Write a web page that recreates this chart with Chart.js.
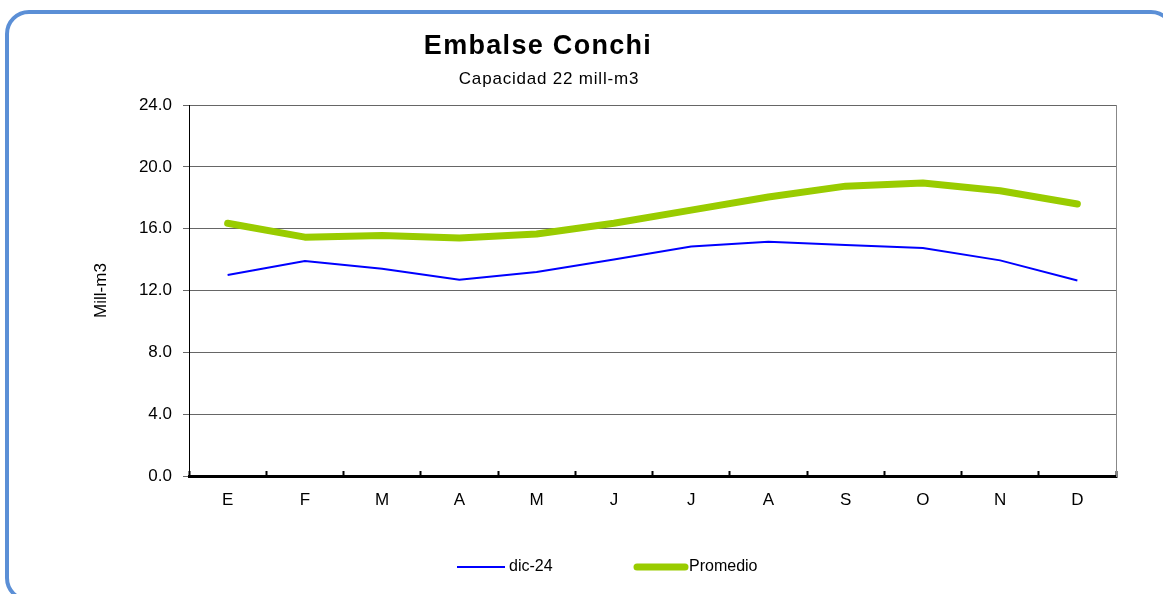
<!DOCTYPE html>
<html lang="es">
<head>
<meta charset="utf-8">
<title>Embalse Conchi</title>
<script src="https://cdn.jsdelivr.net/npm/chart.js@4/dist/chart.umd.min.js"></script>
<style>
    html, body { margin: 0; padding: 0; background: #fff; overflow: hidden; }
    #marco {
        position: absolute;
        left: 5px; top: 10px;
        width: 1170px; height: 592px;
        box-sizing: border-box;
        border: 4.5px solid #5b8fd6;
        border-radius: 24px;
    }
    #grafico { position: absolute; left: 0; top: 0; }
</style>
</head>
<body>
<div id="marco"></div>
<canvas id="grafico" width="1163" height="594"></canvas>
<script>
// Datos del embalse (mill-m3 por mes)
const meses = ['E', 'F', 'M', 'A', 'M', 'J', 'J', 'A', 'S', 'O', 'N', 'D'];
const dic24 = [13.0, 13.9, 13.4, 12.7, 13.2, 14.0, 14.85, 15.15, 14.95, 14.75, 13.95, 12.65];
const promedio = [16.35, 15.45, 15.55, 15.4, 15.65, 16.35, 17.2, 18.05, 18.75, 18.95, 18.45, 17.6];
const ejeY = { min: 0, max: 24, paso: 4 };

const FUENTE = '"Liberation Sans", Arial, sans-serif';

// Titulo y subtitulo
const titulos = {
    id: 'titulos',
    afterDraw(chart) {
        const ctx = chart.ctx;
        ctx.save();
        ctx.fillStyle = '#000';
        ctx.textAlign = 'center';
        ctx.textBaseline = 'alphabetic';
        ctx.font = 'bold 27px ' + FUENTE;
        ctx.letterSpacing = '1.3px';
        ctx.fillText('Embalse Conchi', 538, 54);
        ctx.font = '17px ' + FUENTE;
        ctx.letterSpacing = '0.8px';
        ctx.fillText('Capacidad 22 mill-m3', 549, 84);
        ctx.restore();
    }
};

// Leyenda con trazos de linea
const leyenda = {
    id: 'leyenda',
    afterDraw(chart) {
        const ctx = chart.ctx;
        const items = [
            { ds: chart.data.datasets[0], x: 457 },
            { ds: chart.data.datasets[1], x: 637 }
        ];
        ctx.save();
        ctx.font = '16px ' + FUENTE;
        ctx.textBaseline = 'middle';
        ctx.fillStyle = '#000';
        items.forEach(it => {
            ctx.strokeStyle = it.ds.borderColor;
            ctx.lineWidth = it.ds.borderWidth;
            ctx.lineCap = it.ds.borderCapStyle || 'butt';
            ctx.beginPath();
            ctx.moveTo(it.x, 567);
            ctx.lineTo(it.x + 48, 567);
            ctx.stroke();
            ctx.fillText(it.ds.label, it.x + 52, 567);
        });
        ctx.restore();
    }
};

new Chart(document.getElementById('grafico').getContext('2d'), {
    type: 'line',
    data: {
        labels: meses,
        datasets: [
            {
                label: 'dic-24',
                data: dic24,
                borderColor: '#0000ff',
                borderWidth: 2,
                pointRadius: 0,
                tension: 0
            },
            {
                label: 'Promedio',
                data: promedio,
                borderColor: '#99cc00',
                borderWidth: 7,
                borderCapStyle: 'round',
                borderJoinStyle: 'round',
                pointRadius: 0,
                tension: 0
            }
        ]
    },
    options: {
        responsive: false,
        animation: false,
        layout: { padding: { top: 105, left: 54, right: 0, bottom: 0 } },
        plugins: {
            legend: { display: false },
            title: { display: false },
            tooltip: { enabled: false }
        },
        scales: {
            x: {
                offset: true,
                grid: {
                    offset: true,
                    drawOnChartArea: false,
                    tickLength: -5,
                    tickWidth: 2,
                    tickColor: '#000'
                },
                border: { color: '#000', width: 3 },
                ticks: {
                    color: '#000',
                    font: { family: FUENTE, size: 17 },
                    padding: 19,
                    maxRotation: 0,
                    autoSkip: false
                },
                afterFit(scale) { scale.height = 118; }
            },
            y: {
                min: ejeY.min,
                max: ejeY.max,
                grid: { color: '#666', tickLength: 6, tickColor: '#666' },
                border: { color: '#000', width: 1 },
                ticks: {
                    stepSize: ejeY.paso,
                    color: '#000',
                    padding: 11,
                    font: { family: FUENTE, size: 17 },
                    callback: v => v.toFixed(1)
                },
                title: {
                    display: true,
                    text: 'Mill-m3',
                    color: '#000',
                    font: { family: FUENTE, size: 17 },
                    padding: { top: 37, bottom: 0 }
                },
                afterFit(scale) { scale.width = 135; }
            },
            y2: {
                position: 'right',
                min: ejeY.min,
                max: ejeY.max,
                grid: { drawOnChartArea: false, drawTicks: false },
                border: { color: '#888', width: 1 },
                ticks: { display: false },
                afterFit(scale) { scale.width = 47; }
            }
        }
    },
    plugins: [titulos, leyenda]
});
</script>
</body>
</html>
